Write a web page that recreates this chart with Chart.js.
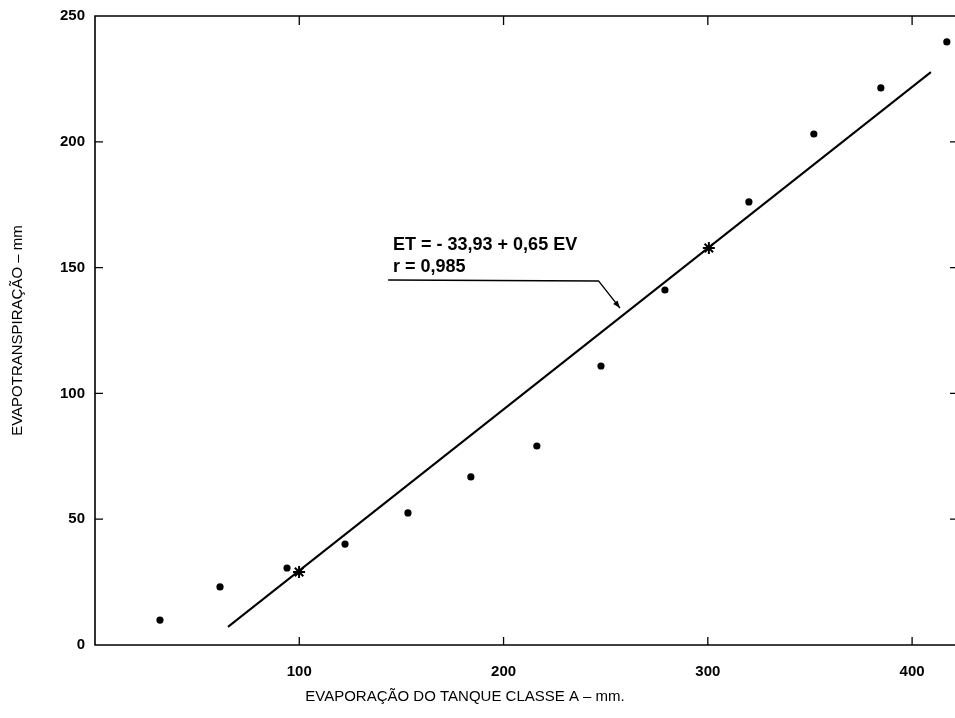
<!DOCTYPE html>
<html><head><meta charset="utf-8">
<script src="https://cdn.jsdelivr.net/npm/chart.js@4"></script>
<style>html,body{margin:0;padding:0;background:#fff}#wrap{width:955px;height:718px}</style>
</head><body><div id="wrap"><canvas id="c" width="955" height="718"></canvas></div>
<script>
// ---- data ----
const xTicks = [100, 200, 300, 400];
const yTicks = [0, 50, 100, 150, 200, 250];
const obsX = [31.8, 61.2, 94.0, 122.4, 153.2, 184.0, 216.3, 247.7, 279.0, 320.1, 351.9, 384.7, 417.0];
const obsY = [9.9, 23.1, 30.6, 40.1, 52.5, 66.8, 79.1, 110.9, 141.1, 176.1, 203.1, 221.4, 239.7];
const starX = [99.9, 300.5];
const starY = [29.0, 157.8];
const lineX = [65.1, 409.2];
const lineY = [7.2, 227.7];
const eqText = ["ET = - 33,93 + 0,65 EV", "r = 0,985"];
const eqAnchorX = [145.9, 145.9];
const eqAnchorY = [159.0, 150.2];
const leaderX = [143.5, 246.5, 257.0];
const leaderY = [145.1, 144.7, 133.9];
const xTitle = "EVAPORAÇÃO DO TANQUE CLASSE A – mm.";
const yTitle = "EVAPOTRANSPIRAÇÃO – mm";

const FONT = "'Liberation Sans', Arial, Helvetica, sans-serif";

const toPts = (xs, ys) => xs.map((x, i) => ({x, y: ys[i]}));

const decor = {
  id: 'decor',
  afterDraw(chart) {
    const {ctx, chartArea: a, scales: {x, y}} = chart;
    ctx.save();
    ctx.strokeStyle = '#000';
    ctx.lineWidth = 1.6;
    // frame: top, left, bottom
    ctx.beginPath();
    ctx.moveTo(a.right, a.top); ctx.lineTo(a.left, a.top);
    ctx.lineTo(a.left, a.bottom); ctx.lineTo(a.right, a.bottom);
    ctx.stroke();
    // inward ticks
    ctx.lineWidth = 1.3;
    ctx.beginPath();
    xTicks.forEach(v => {
      const px = x.getPixelForValue(v);
      ctx.moveTo(px, a.bottom); ctx.lineTo(px, a.bottom - 8);
      ctx.moveTo(px, a.top); ctx.lineTo(px, a.top + 9);
    });
    yTicks.forEach(v => {
      if (v === 0 || v === 250) return;
      const py = y.getPixelForValue(v);
      ctx.moveTo(a.left, py); ctx.lineTo(a.left + 8, py);
      ctx.moveTo(a.right, py); ctx.lineTo(a.right - 5, py);
    });
    ctx.stroke();
    // axis titles
    ctx.fillStyle = '#000';
    ctx.font = '15px ' + FONT;
    ctx.textAlign = 'center';
    ctx.textBaseline = 'middle';
    ctx.fillText(xTitle, 465, 697);
    ctx.save();
    ctx.translate(18, (a.top + a.bottom) / 2);
    ctx.rotate(-Math.PI / 2);
    ctx.fillText(yTitle, 0, 0);
    ctx.restore();
    // equation annotation
    ctx.font = 'bold 18px ' + FONT;
    ctx.textAlign = 'left';
    eqText.forEach((t, i) => {
      ctx.fillText(t, x.getPixelForValue(eqAnchorX[i]), y.getPixelForValue(eqAnchorY[i]));
    });
    // leader line with arrow
    const lp = leaderX.map((v, i) => [x.getPixelForValue(v), y.getPixelForValue(leaderY[i])]);
    ctx.lineWidth = 1.4;
    ctx.beginPath();
    ctx.moveTo(lp[0][0], lp[0][1]);
    for (let i = 1; i < lp.length; i++) ctx.lineTo(lp[i][0], lp[i][1]);
    ctx.stroke();
    const [p1, p2] = [lp[lp.length - 2], lp[lp.length - 1]];
    const ang = Math.atan2(p2[1] - p1[1], p2[0] - p1[0]);
    ctx.beginPath();
    ctx.moveTo(p2[0], p2[1]);
    ctx.lineTo(p2[0] - 8 * Math.cos(ang - 0.35), p2[1] - 8 * Math.sin(ang - 0.35));
    ctx.lineTo(p2[0] - 8 * Math.cos(ang + 0.35), p2[1] - 8 * Math.sin(ang + 0.35));
    ctx.closePath();
    ctx.fill();
    ctx.restore();
  }
};

new Chart(document.getElementById('c'), {
  type: 'scatter',
  data: {
    datasets: [
      {
        label: 'Regressão',
        data: toPts(lineX, lineY),
        showLine: true,
        borderColor: '#000',
        borderWidth: 2,
        pointRadius: 0,
        fill: false
      },
      {
        label: 'Pontos da reta',
        data: toPts(starX, starY),
        pointStyle: 'star',
        pointRadius: 6,
        borderColor: '#000',
        borderWidth: 2,
        backgroundColor: '#000'
      },
      {
        label: 'Observados',
        data: toPts(obsX, obsY),
        pointStyle: 'circle',
        pointRadius: 3.6,
        backgroundColor: '#000',
        borderColor: '#000',
        borderWidth: 0
      }
    ]
  },
  options: {
    responsive: false,
    animation: false,
    clip: false,
    layout: {autoPadding: false, padding: {top: 16, right: 0, left: 0, bottom: 0}},
    plugins: {legend: {display: false}, tooltip: {enabled: false}},
    scales: {
      x: {
        type: 'linear', min: 0, max: 421,
        afterBuildTicks: s => { s.ticks = xTicks.map(v => ({value: v})); },
        afterFit: s => { s.height = 73; s.paddingLeft = 0; s.paddingRight = 0; },
        grid: {display: false, drawTicks: false},
        border: {display: false},
        ticks: {color: '#000', padding: 18, font: {family: FONT, size: 15, weight: 'bold'}, maxRotation: 0}
      },
      y: {
        type: 'linear', min: 0, max: 250,
        afterBuildTicks: s => { s.ticks = yTicks.map(v => ({value: v})); },
        afterFit: s => { s.width = 95; s.paddingTop = 0; s.paddingBottom = 0; },
        grid: {display: false, drawTicks: false},
        border: {display: false},
        ticks: {color: '#000', padding: 10, font: {family: FONT, size: 15, weight: 'bold'}}
      }
    }
  },
  plugins: [decor]
});
</script>
</body></html>
